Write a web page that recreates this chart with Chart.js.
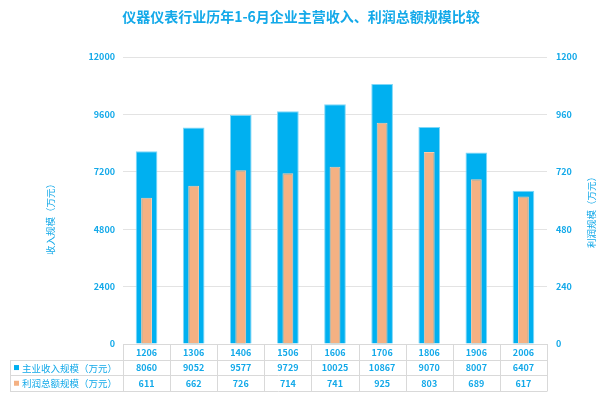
<!DOCTYPE html>
<html>
<head>
<meta charset="utf-8">
<script src="https://cdn.jsdelivr.net/npm/chart.js@4"></script>
<style>
  html, body { margin: 0; padding: 0; background: #ffffff; }
  #wrap { width: 601px; height: 393px; position: relative; }
</style>
</head>
<body>
<div id="wrap"><canvas id="c" width="601" height="393"></canvas></div>
<script>
const chartTitle = '仪器仪表行业历年1-6月企业主营收入、利润总额规模比较';
const categories = ['1206', '1306', '1406', '1506', '1606', '1706', '1806', '1906', '2006'];
const revenueLabel = '主业收入规模（万元）';
const profitLabel = '利润总额规模（万元）';
const revenue = [8060, 9052, 9577, 9729, 10025, 10867, 9070, 8007, 6407];
const profit = [611, 662, 726, 714, 741, 925, 803, 689, 617];
const leftAxisTitle = '收入规模（万元）';
const rightAxisTitle = '利润规模（万元）';
const leftTicks = { min: 0, max: 12000, step: 2400 };
const rightTicks = { min: 0, max: 1200, step: 240 };

const TXT = '#13A9E9';
const BLUE = '#00B0F0';
const ORANGE = '#F4B183';
const FONT = '"Noto Sans CJK SC", "Noto Sans", sans-serif';

const tablePlugin = {
  id: 'tablePlugin',
  afterDraw(chart) {
    const ctx = chart.ctx;
    const ca = chart.chartArea;
    const xs = chart.scales.x;
    const n = categories.length;
    const w = (ca.right - ca.left) / n;
    const top = ca.bottom;
    const rowH = 15.7;
    const y1 = top + rowH, y2 = top + 2 * rowH, y3 = top + 3 * rowH;
    const leftX = 10;
    ctx.save();
    // title
    ctx.fillStyle = TXT;
    ctx.font = 'bold 14px ' + FONT;
    ctx.textAlign = 'center';
    ctx.textBaseline = 'middle';
    ctx.fillText(chartTitle, 301, 17);
    // axis titles
    ctx.font = '9.5px ' + FONT;
    ctx.save();
    ctx.translate(50, 217);
    ctx.rotate(-Math.PI / 2);
    ctx.fillText(leftAxisTitle, 0, 0);
    ctx.restore();
    ctx.save();
    ctx.translate(591, 210);
    ctx.rotate(-Math.PI / 2);
    ctx.fillText(rightAxisTitle, 0, 0);
    ctx.restore();
    // table lines
    ctx.strokeStyle = '#d9d9d9';
    ctx.lineWidth = 1;
    ctx.beginPath();
    ctx.moveTo(ca.left, top + 0.5); ctx.lineTo(ca.right, top + 0.5);
    [y1, y2, y3].forEach(y => { const yy = Math.round(y) + 0.5; ctx.moveTo(leftX, yy); ctx.lineTo(ca.right, yy); });
    ctx.moveTo(leftX + 0.5, Math.round(y1) + 0.5); ctx.lineTo(leftX + 0.5, Math.round(y3) + 0.5);
    for (let i = 0; i <= n; i++) {
      const x = Math.round(ca.left + i * w) + 0.5;
      ctx.moveTo(x, top); ctx.lineTo(x, Math.round(y3) + 0.5);
    }
    ctx.stroke();
    // texts
    ctx.textAlign = 'center';
    ctx.textBaseline = 'middle';
    ctx.font = 'bold 9px ' + FONT;
    ctx.fillStyle = TXT;
    for (let i = 0; i < n; i++) {
      const cx = xs.getPixelForValue(i);
      ctx.fillText(categories[i], cx, top + rowH / 2 + 0.5);
      ctx.fillText(String(revenue[i]), cx, y1 + rowH / 2 + 0.5);
      ctx.fillText(String(profit[i]), cx, y2 + rowH / 2 + 0.5);
    }
    // row labels
    ctx.textAlign = 'left';
    ctx.fillStyle = BLUE;
    ctx.fillRect(14, y1 + rowH / 2 - 2.5, 5, 5);
    ctx.fillStyle = ORANGE;
    ctx.fillRect(14, y2 + rowH / 2 - 2.5, 5, 5);
    ctx.fillStyle = TXT;
    ctx.font = '9.5px ' + FONT;
    ctx.fillText(revenueLabel, 22, y1 + rowH / 2 + 0.5);
    ctx.fillText(profitLabel, 22, y2 + rowH / 2 + 0.5);
    ctx.restore();
  }
};

new Chart(document.getElementById('c'), {
  type: 'bar',
  data: {
    labels: categories,
    datasets: [
      {
        label: profitLabel,
        data: profit,
        yAxisID: 'y1',
        backgroundColor: ORANGE,
        borderColor: '#F8CBAD',
        borderWidth: 1,
        barPercentage: 0.23,
        categoryPercentage: 1,
        grouped: false,
        order: 0
      },
      {
        label: revenueLabel,
        data: revenue,
        yAxisID: 'y',
        backgroundColor: BLUE,
        borderColor: '#7FD7F7',
        borderWidth: 1,
        barPercentage: 0.46,
        categoryPercentage: 1,
        grouped: false,
        order: 1
      }
    ]
  },
  options: {
    responsive: false,
    animation: false,
    layout: { padding: { top: 57, bottom: 49, left: 0, right: 0 } },
    plugins: { legend: { display: false }, title: { display: false }, tooltip: { enabled: false } },
    scales: {
      x: { display: false },
      y: {
        position: 'left',
        min: leftTicks.min, max: leftTicks.max,
        afterFit(s) { s.width = 123; },
        ticks: { stepSize: leftTicks.step, padding: 8, color: TXT, font: { family: FONT, size: 9, weight: 'bold' }, callback: v => String(v) },
        grid: { color: '#e3e3e3', drawTicks: false },
        border: { display: false }
      },
      y1: {
        position: 'right',
        min: rightTicks.min, max: rightTicks.max,
        afterFit(s) { s.width = 54; },
        ticks: { stepSize: rightTicks.step, padding: 9, color: TXT, font: { family: FONT, size: 9, weight: 'bold' }, callback: v => String(v) },
        grid: { drawOnChartArea: false, drawTicks: false },
        border: { display: false }
      }
    }
  },
  plugins: [tablePlugin]
});
</script>
</body>
</html>
